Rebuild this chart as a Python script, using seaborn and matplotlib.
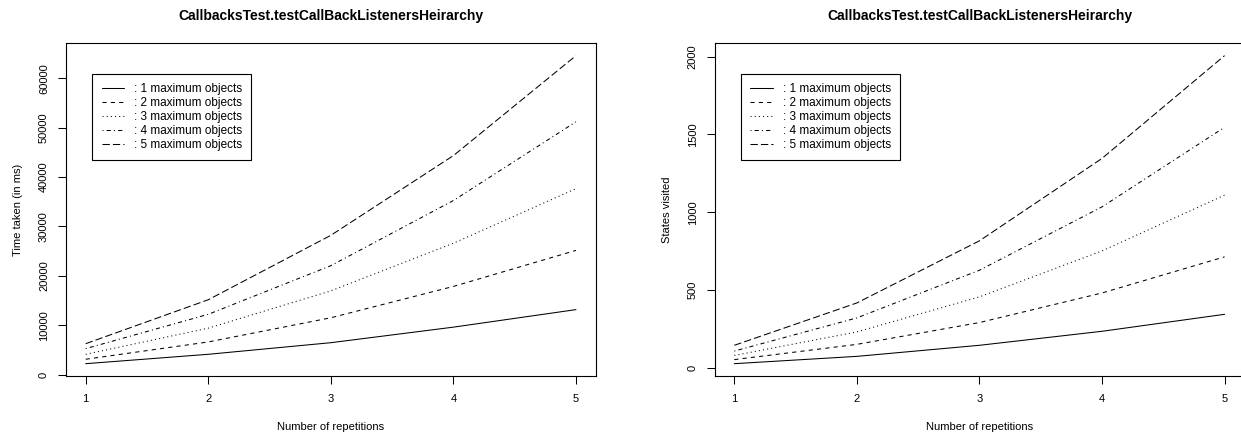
import numpy as np
import pandas as pd
import matplotlib
matplotlib.use("Agg")
import matplotlib.pyplot as plt
import seaborn as sns

# ---------------- data ----------------
reps = [1, 2, 3, 4, 5]
series_labels = [": 1 maximum objects", ": 2 maximum objects", ": 3 maximum objects",
                 ": 4 maximum objects", ": 5 maximum objects"]

time_1 = [2200, 4100, 6450, 9600, 13150]
time_2 = [3100, 6600, 11500, 17850, 25150]
time_3 = [4100, 9400, 16950, 26600, 37650]
time_4 = [5250, 12200, 22050, 35250, 51200]
time_5 = [6250, 15150, 28200, 44350, 64600]

states_1 = [28, 75, 146, 236, 345]
states_2 = [54, 152, 292, 482, 714]
states_3 = [81, 232, 457, 752, 1110]
states_4 = [109, 322, 628, 1035, 1546]
states_5 = [146, 418, 817, 1346, 2006]

title = "CallbacksTest.testCallBackListenersHeirarchy"
x_label = "Number of repetitions"
y_label_left = "Time taken (in ms)"
y_label_right = "States visited"
y_ticks_left = [0, 10000, 20000, 30000, 40000, 50000, 60000]
y_ticks_right = [0, 500, 1000, 1500, 2000]


def long_frame(series):
    rows = []
    for lab, vals in zip(series_labels, series):
        for r, v in zip(reps, vals):
            rows.append({"reps": r, "value": v, "series": lab})
    return pd.DataFrame(rows)


df_time = long_frame([time_1, time_2, time_3, time_4, time_5])
df_states = long_frame([states_1, states_2, states_3, states_4, states_5])

# ---------------- style ----------------
sns.set_theme(style="white")
plt.rcParams["font.family"] = ["Liberation Sans", "DejaVu Sans"]
plt.rcParams["axes.edgecolor"] = "black"
plt.rcParams["axes.linewidth"] = 0.8
plt.rcParams["text.color"] = "black"
plt.rcParams["axes.labelcolor"] = "black"
plt.rcParams["xtick.color"] = "black"
plt.rcParams["ytick.color"] = "black"

dash_map = {
    series_labels[0]: "",
    series_labels[1]: (4, 4),
    series_labels[2]: (1, 3),
    series_labels[3]: (1, 3, 4, 3),
    series_labels[4]: (7, 3),
}

W, H = 1241, 436
fig = plt.figure(figsize=(W / 100, H / 100), dpi=100)

ax_top, ax_bot = 43.3, 376.0
ax_w = 529.5
positions = [66.1, 714.7]


def draw(ax, df, ylab, yticks):
    sns.lineplot(data=df, x="reps", y="value", style="series", dashes=dash_map,
                 color="black", linewidth=0.75, ax=ax, legend=True,
                 estimator=None, sort=False)
    # R-like 4% axis extension
    ax.set_xlim(1 - 0.16, 5 + 0.16)
    vmin, vmax = df["value"].min(), df["value"].max()
    rng = vmax - vmin
    ax.set_ylim(vmin - 0.04 * rng, vmax + 0.04 * rng)
    ax.set_xticks(reps)
    ax.set_yticks(yticks)
    ax.set_yticklabels([str(t) for t in yticks], rotation=90, va="center")
    ax.tick_params(axis="both", which="major", direction="out", length=5.8, width=0.75,
                   color="black", labelsize=8, labelcolor="black", bottom=True, left=True)
    ax.tick_params(axis="x", pad=7)
    ax.tick_params(axis="y", pad=6.5)
    for s in ax.spines.values():
        s.set_color("black")
        s.set_linewidth(0.8)

    ax.set_xlabel(x_label, fontsize=8, color="black")
    ax.set_ylabel(ylab, fontsize=8, color="black")
    ax.xaxis.set_label_coords(0.5, (ax_bot - 426.5) / (ax_bot - ax_top))
    ax.xaxis.label.set_va("center")
    ax.yaxis.set_label_coords((18 - 66.1) / ax_w, 0.5)
    ax.yaxis.label.set_va("center")

    ax.set_title(title, fontsize=10, fontweight="bold", color="black",
                 y=(ax_bot - 15.5) / (ax_bot - ax_top), pad=0, va="center")

    old = ax.get_legend()
    handles = old.legend_handles
    labels = [t.get_text() for t in old.get_texts()]
    old.remove()
    leg = ax.legend(handles, labels, loc="upper left",
                    bbox_to_anchor=((92.3 - 66.1) / ax_w, (ax_bot - 74) / (ax_bot - ax_top)),
                    borderaxespad=0, frameon=True, fancybox=False, fontsize=8.5,
                    handlelength=1.9, handletextpad=0.85, labelspacing=0.17,
                    borderpad=0.78, edgecolor="black", framealpha=1)
    leg.get_frame().set_linewidth(0.8)
    for t in leg.get_texts():
        t.set_color("black")
    for h in leg.legend_handles:
        h.set_color("black")
        h.set_linewidth(0.75)


ax1 = fig.add_axes([positions[0] / W, (H - ax_bot) / H, ax_w / W, (ax_bot - ax_top) / H])
draw(ax1, df_time, y_label_left, y_ticks_left)
ax2 = fig.add_axes([positions[1] / W, (H - ax_bot) / H, ax_w / W, (ax_bot - ax_top) / H])
draw(ax2, df_states, y_label_right, y_ticks_right)

fig.savefig("out.png", dpi=100)
